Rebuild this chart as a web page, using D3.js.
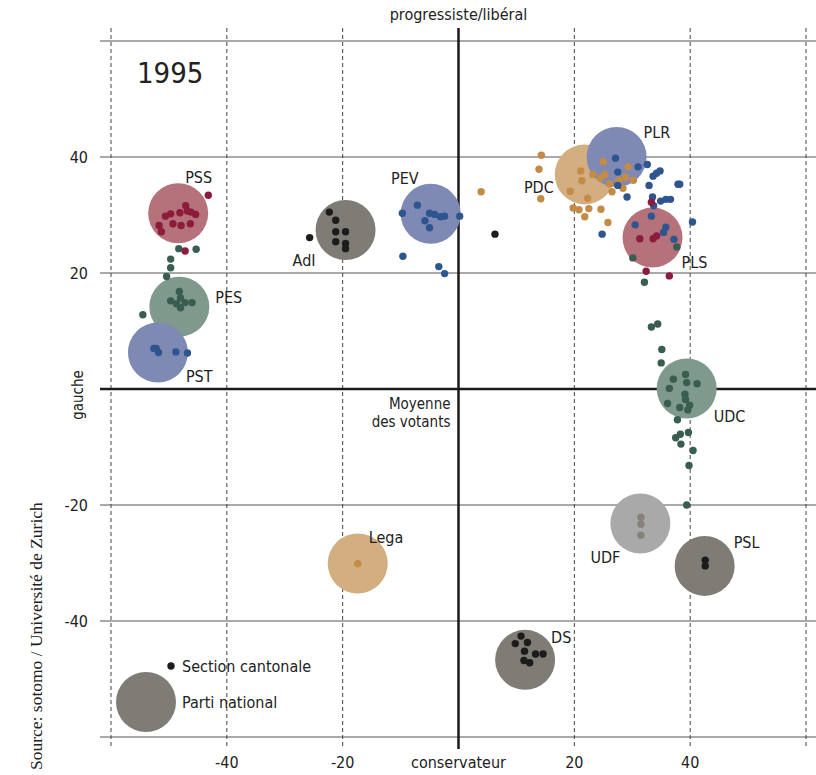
<!DOCTYPE html>
<html lang="fr">
<head>
<meta charset="UTF-8">
<title>1995 - positions des partis</title>
<style>
    body { margin: 0; background: #fff; }
    svg { display: block; }
    text { font-family: "Liberation Sans Narrow", "DejaVu Sans Condensed", "Roboto", sans-serif; fill: #222; }
    text.src { font-family: "Liberation Serif", "DejaVu Serif", serif; }
</style>
</head>
<body>
<script src="https://d3js.org/d3.v7.min.js"></script>
<script>
// ---- données ----
const year = '1995';
const tickValues = [-40, -20, 20, 40];
const gridValues = [-60, -40, -20, 0, 20, 40, 60];

// partis nationaux : nom, position x, position y
const parties = ['PDC', 'PLR', 'PES', 'PST', 'PSS', 'AdI', 'PEV', 'PLS', 'UDC', 'UDF', 'PSL', 'DS', 'Lega'];
const partyX = [21.8, 27.3, -48.2, -51.9, -48.4, -19.5, -4.8, 33.5, 39.4, 31.4, 42.5, 11.5, -17.4];
const partyY = [37.0, 40.0, 14.2, 6.3, 30.3, 27.4, 30.2, 26.1, 0.1, -23.2, -30.5, -46.7, -30.1];

// sections cantonales [x, y]
const secPSS = [[-43.2, 33.4], [-49.7, 30.2], [-50.6, 29.8], [-48.1, 30.4], [-47.1, 31.6], [-46.8, 30.7], [-45.4, 30.1],
    [-46.2, 30.5], [-49.3, 28.5], [-47.9, 28.2], [-46.3, 28.5], [-51.7, 28.2], [-51.3, 27.1], [-47.2, 23.8]];
const secPES = [[-48.2, 16.8], [-49.7, 15.2], [-48.0, 15.7], [-47.2, 14.9], [-46.0, 14.9], [-48.0, 14.0], [-48.7, 14.7],
    [-54.5, 12.8], [-48.3, 24.2], [-45.3, 24.1], [-49.7, 22.4], [-49.7, 20.9], [-50.4, 19.4]];
const secPST = [[-52.2, 7.0], [-51.8, 6.3], [-52.6, 7.0], [-48.8, 6.4], [-46.8, 6.2]];
const secAdI = [[-22.3, 30.5], [-21.2, 29.1], [-21.2, 27.1], [-19.5, 27.1], [-21.2, 25.4], [-19.5, 25.1], [-19.5, 24.2],
    [-25.7, 26.1], [6.3, 26.7]];
const secPEV = [[-7.1, 31.7], [-9.7, 30.3], [-5.0, 30.3], [-4.1, 30.1], [-3.1, 29.7], [-2.4, 29.8], [-5.8, 29.0],
    [-5.0, 27.8], [0.2, 29.8], [-9.6, 22.9], [-3.4, 21.1], [-2.4, 19.9]];
const secPDC = [[3.9, 34.0], [14.3, 40.3], [13.9, 37.9], [14.2, 32.8], [21.1, 37.6], [21.3, 35.9], [19.3, 34.1], [22.3, 32.9],
    [19.8, 31.2], [20.8, 30.9], [22.5, 31.1], [24.6, 31.0], [21.8, 29.7], [25.8, 28.7], [23.2, 37.0], [24.5, 36.4],
    [25.3, 37.0], [25.0, 39.2], [26.1, 35.4], [26.5, 34.0], [27.7, 36.0], [28.8, 36.5], [29.3, 38.3], [30.2, 36.0],
    [28.4, 34.6]];
const secPLR = [[27.1, 39.8], [27.5, 37.4], [31.0, 38.3], [32.6, 38.7], [33.6, 36.7], [34.2, 37.2], [34.8, 37.6],
    [32.9, 35.1], [37.9, 35.3], [38.2, 35.3], [29.1, 33.1], [33.5, 33.1], [34.9, 32.4], [35.8, 32.7], [36.6, 32.7],
    [33.7, 31.6], [27.5, 35.1], [24.8, 26.7], [40.4, 28.8], [33.3, 29.8], [30.5, 28.3], [35.8, 27.9], [35.4, 27.0],
    [37.2, 25.8]];
const secPLS = [[33.3, 32.2], [31.3, 25.9], [33.6, 25.9], [34.2, 26.4], [32.4, 20.3], [36.4, 19.5]];
const secUDC = [[30.1, 22.6], [37.7, 24.5], [32.1, 18.4], [33.3, 10.7], [34.4, 11.2], [35.1, 6.8], [35.0, 4.5],
    [37.1, 1.7], [39.2, 2.5], [39.4, 1.1], [41.2, 0.9], [36.4, 0.1], [39.1, -0.9], [39.2, -1.8], [36.1, -2.5],
    [38.2, -3.2], [39.9, -2.8], [39.6, -3.6], [37.8, -5.3], [39.7, -7.5], [38.3, -7.8], [37.5, -8.4], [38.4, -9.5],
    [40.5, -10.6], [39.8, -13.2], [39.4, -20.0]];
const secUDF = [[31.5, -22.1], [31.5, -23.3], [31.5, -25.2]];
const secPSL = [[42.6, -29.5], [42.6, -30.5]];
const secDS = [[10.8, -42.6], [9.8, -43.9], [11.9, -43.7], [11.4, -45.2], [13.3, -45.7], [14.6, -45.7], [11.3, -46.8],
    [12.3, -47.2]];
const secLega = [[-17.4, -30.1]];

const sections = {
    PSS: secPSS, PES: secPES, PST: secPST, AdI: secAdI, PEV: secPEV, PDC: secPDC, PLR: secPLR,
    PLS: secPLS, UDC: secUDC, UDF: secUDF, PSL: secPSL, DS: secDS, Lega: secLega
};

// ---- style ----
const famille = {
    PSS: 'rouge', PLS: 'rouge', PES: 'vert', UDC: 'vert', PST: 'bleu', PEV: 'bleu', PLR: 'bleu',
    PDC: 'orange', Lega: 'orange', AdI: 'gris', DS: 'gris', PSL: 'gris', UDF: 'clair'
};
const bigColor = { rouge: '#b5727a', vert: '#7f9a8d', bleu: '#7e8ab3', orange: '#d3ae80', gris: '#7f7b75', clair: '#a9a9a9' };
const dotColor = { rouge: '#8c1b3c', vert: '#3a5d52', bleu: '#2f5591', orange: '#c48b45', gris: '#1c1c1c', clair: '#85827c' };

// position des étiquettes par rapport au centre (px)
const labelPos = {
    PSS: [7, -30, 'start'], PES: [36, -4, 'start'], PST: [28, 30, 'start'], AdI: [-30, 36, 'end'],
    PEV: [-12, -30, 'end'], PDC: [-31, 19, 'end'], PLR: [27, -19, 'start'], PLS: [29, 30, 'start'],
    UDC: [27, 34, 'start'], UDF: [-20, 39, 'end'], PSL: [29, -18, 'start'], DS: [26, -17, 'start'],
    Lega: [11, -21, 'start']
};

const width = 816, height = 775;
const bigR = 30, dotR = 3.7;

const svg = d3.select('body').append('svg')
    .attr('width', width)
    .attr('height', height);

const x = d3.scaleLinear().domain([-60, 60]).range([111, 806]);
const y = d3.scaleLinear().domain([-60, 60]).range([737, 41]);

// grille
const grid = svg.append('g').attr('class', 'grid');
grid.selectAll('.h').data(gridValues.filter(d => d !== 0)).join('line')
    .attr('x1', 100).attr('x2', width)
    .attr('y1', d => y(d)).attr('y2', d => y(d))
    .attr('stroke', '#555').attr('stroke-width', 1);
grid.selectAll('.v').data(gridValues.filter(d => d !== 0)).join('line')
    .attr('x1', d => x(d)).attr('x2', d => x(d))
    .attr('y1', 28).attr('y2', 749)
    .attr('stroke', '#444').attr('stroke-width', 1)
    .attr('stroke-dasharray', '4,3');

// axes centraux
svg.append('line')
    .attr('x1', 100).attr('x2', width).attr('y1', y(0)).attr('y2', y(0))
    .attr('stroke', '#1a1a1a').attr('stroke-width', 2.5);
svg.append('line')
    .attr('x1', x(0)).attr('x2', x(0)).attr('y1', 28).attr('y2', 749)
    .attr('stroke', '#1a1a1a').attr('stroke-width', 2.5);

// étiquettes des graduations
svg.append('g').selectAll('text').data(tickValues).join('text')
    .attr('x', 88).attr('y', d => y(d)).attr('dy', '0.35em')
    .attr('text-anchor', 'end').attr('font-size', 16)
    .text(d => d);
svg.append('g').selectAll('text').data(tickValues).join('text')
    .attr('x', d => x(d)).attr('y', 762).attr('dy', '0.35em')
    .attr('text-anchor', 'middle').attr('font-size', 16)
    .text(d => d);

svg.append('text').attr('x', x(0)).attr('y', 762).attr('dy', '0.35em')
    .attr('text-anchor', 'middle').attr('font-size', 16).text('conservateur');
svg.append('text').attr('x', x(0)).attr('y', 14).attr('dy', '0.35em')
    .attr('text-anchor', 'middle').attr('font-size', 16).text('progressiste/libéral');
svg.append('text')
    .attr('transform', `translate(78, ${y(0) + 6}) rotate(-90)`)
    .attr('text-anchor', 'middle').attr('dy', '0.35em').attr('font-size', 15).text('gauche');

const moy = svg.append('text').attr('text-anchor', 'end').attr('font-size', 15);
moy.append('tspan').attr('x', x(0) - 8).attr('y', y(0) + 20).text('Moyenne');
moy.append('tspan').attr('x', x(0) - 8).attr('y', y(0) + 38).text('des votants');

svg.append('text').attr('x', 137).attr('y', 83).attr('font-size', 29).text(year);

svg.append('text').attr('class', 'src')
    .attr('transform', 'translate(42, 770) rotate(-90)')
    .attr('font-size', 17.5).text('Source: sotomo / Université de Zurich');

// cercles des partis nationaux
const partyData = parties.map((p, i) => ({ name: p, x: partyX[i], y: partyY[i] }));

svg.append('g').selectAll('circle').data(partyData).join('circle')
    .attr('cx', d => x(d.x)).attr('cy', d => y(d.y)).attr('r', bigR)
    .attr('fill', d => bigColor[famille[d.name]]);

// sections cantonales
const dots = svg.append('g');
parties.forEach(p => {
    dots.selectAll(`.s-${p}`).data(sections[p]).join('circle')
        .attr('class', `s-${p}`)
        .attr('cx', d => x(d[0])).attr('cy', d => y(d[1])).attr('r', dotR)
        .attr('fill', dotColor[famille[p]]);
});

// noms des partis
svg.append('g').selectAll('text').data(partyData).join('text')
    .attr('x', d => x(d.x) + labelPos[d.name][0])
    .attr('y', d => y(d.y) + labelPos[d.name][1])
    .attr('text-anchor', d => labelPos[d.name][2])
    .attr('font-size', 16)
    .text(d => d.name);

// légende
const leg = svg.append('g');
leg.append('circle').attr('cx', 146).attr('cy', 702).attr('r', bigR).attr('fill', bigColor.gris);
leg.append('circle').attr('cx', 171).attr('cy', 666).attr('r', dotR).attr('fill', dotColor.gris);
leg.append('text').attr('x', 182).attr('y', 666).attr('dy', '0.35em').attr('font-size', 16).text('Section cantonale');
leg.append('text').attr('x', 182).attr('y', 702).attr('dy', '0.35em').attr('font-size', 16).text('Parti national');
</script>
</body>
</html>
